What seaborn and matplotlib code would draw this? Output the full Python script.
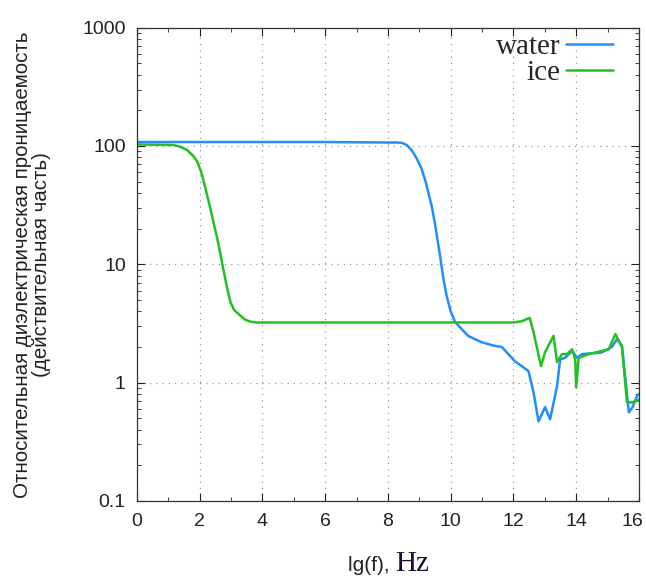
import numpy as np
import pandas as pd
import matplotlib
matplotlib.use("Agg")
import matplotlib.pyplot as plt
import matplotlib.transforms as mtransforms
import seaborn as sns
from matplotlib.ticker import MultipleLocator, LogLocator, NullFormatter

# данные: lg(f) и eps'
water_x = [0, 2, 4, 6, 8, 8.3, 8.45, 8.6, 8.75, 8.9, 9.07, 9.2, 9.39, 9.5, 9.66, 9.77,
           9.87, 10.0, 10.14, 10.35, 10.56, 10.77, 10.99, 11.41, 11.63, 12.04, 12.48,
           12.64, 12.8, 13.01, 13.17, 13.39, 13.49, 13.65, 13.87, 14.03, 14.19, 14.8,
           15.14, 15.3, 15.46, 15.68, 15.8, 15.94, 16.0]
water_y = [108, 108, 108, 108, 107, 107, 106, 102, 92.5, 80, 64.7, 50, 31.5, 22, 11.9, 7.5,
           5.43, 4.0, 3.25, 2.83, 2.48, 2.33, 2.19, 2.04, 2.0, 1.52, 1.25,
           0.83, 0.47, 0.62, 0.49, 0.93, 1.57, 1.62, 1.85, 1.62, 1.74, 1.79,
           2.0, 2.33, 2.04, 0.56, 0.62, 0.77, 0.8]

ice_x = [0, 1.17, 1.4, 1.6, 1.8, 1.92, 2.05, 2.13, 2.24, 2.34, 2.45, 2.56, 2.67, 2.77,
         2.88, 2.98, 3.1, 3.3, 3.45, 3.62, 3.8, 8, 12.0,
         12.27, 12.52, 12.64, 12.88, 13.01, 13.28, 13.39, 13.55, 13.71, 13.87, 13.97,
         14.0, 14.08, 14.4, 15.04, 15.25, 15.46, 15.62, 15.78, 15.94, 16.0]
ice_y = [103, 102, 98, 92.5, 82, 74, 60, 50, 38, 29.6, 22, 16.5, 11.8, 8.6,
         6.2, 4.78, 4.1, 3.67, 3.4, 3.27, 3.22, 3.22, 3.22,
         3.3, 3.52, 2.67, 1.38, 1.81, 2.48, 1.49, 1.74, 1.74, 1.91, 1.57,
         0.91, 1.62, 1.74, 1.91, 2.57, 2.0, 0.68, 0.68, 0.70, 0.72]

df = pd.concat([
    pd.DataFrame({"lgf": water_x, "eps": water_y, "series": "water"}),
    pd.DataFrame({"lgf": ice_x, "eps": ice_y, "series": "ice"}),
])

sns.set_style("white")
plt.rcParams['font.family'] = ['Liberation Sans', 'DejaVu Sans']

fig = plt.figure(figsize=(6.46, 5.77), dpi=100)
ax = fig.add_axes([0.212, 0.132, 0.777, 0.82])

sns.lineplot(data=df, x="lgf", y="eps", hue="series", sort=False,
             palette={"water": "#1f8fff", "ice": "#22c022"}, linewidth=1.8,
             estimator=None, ax=ax)

ax.set_yscale("log")
ax.set_xlim(0, 16)
ax.set_ylim(0.1, 1000)

ax.xaxis.set_major_locator(MultipleLocator(2))
ax.xaxis.set_minor_locator(MultipleLocator(1))
ax.yaxis.set_minor_locator(LogLocator(base=10, subs=np.arange(2, 10), numticks=10))
ax.yaxis.set_minor_formatter(NullFormatter())
ax.set_yticks([0.1, 1, 10, 100, 1000])
ax.set_yticklabels(["0.1", "1", "10", "100", "1000"])
ax.set_xticks(range(0, 17, 2))

ax.tick_params(which="both", direction="in", top=True, right=True, bottom=True, left=True,
               labelsize=14, colors="#222222")
ax.tick_params(which="major", length=6, width=0.8)
ax.tick_params(which="minor", length=3, width=0.6)
ax.tick_params(axis="x", pad=9)
ax.tick_params(axis="y", pad=8)
for s in ax.spines.values():
    s.set_color("#333333")
    s.set_linewidth(0.9)

# "16" прижат к правому краю, чтобы не обрезался
shift = mtransforms.ScaledTranslation(-5 / 72, 0, fig.dpi_scale_trans)
for lbl in ax.get_xticklabels():
    if lbl.get_text() == "16":
        lbl.set_transform(lbl.get_transform() + shift)

ax.grid(True, which="major", linestyle=(0, (1, 4)), color="#999999", linewidth=0.9)

ax.set_xlabel("")
ax.set_ylabel("Относительная диэлектрическая проницаемость\n(действительная часть)",
              fontsize=14.8, color="#222222", linespacing=1.0)
ax.yaxis.set_label_coords(-0.172, 0.5)

fig.text(0.612, 0.004, "lg(f), ", ha="right", va="bottom", fontsize=15, color="#222222")
fig.text(0.612, 0.0, "Hz", ha="left", va="bottom", fontsize=21, color="#111133",
         family="Liberation Serif")

ax.legend(loc="upper right", frameon=False, markerfirst=False, handlelength=1.6,
          borderaxespad=0.1, borderpad=0.1, labelspacing=0.0, handletextpad=0.2,
          bbox_to_anchor=(0.96, 1.0),
          prop={"family": "Liberation Serif", "size": 21})

fig.savefig("out.png", dpi=100)
